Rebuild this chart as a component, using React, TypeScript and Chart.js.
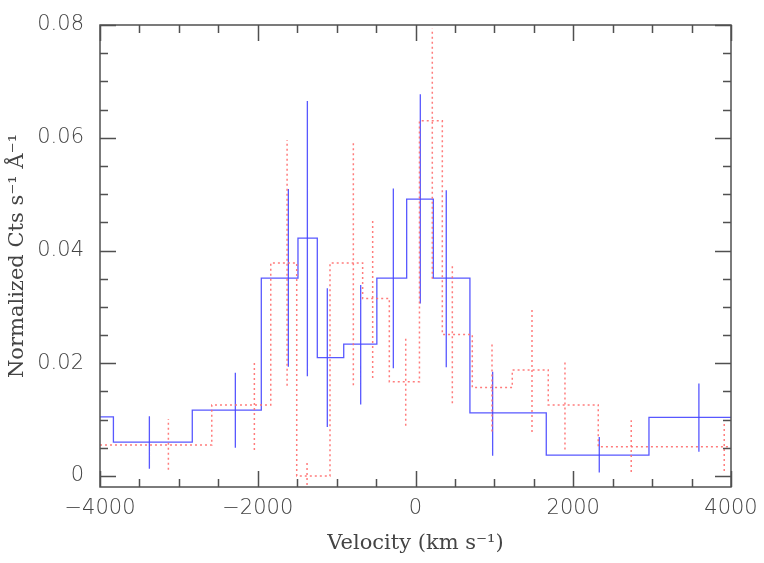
import React, { useEffect, useRef } from 'react';
import { Chart, registerables } from 'chart.js';

Chart.register(...registerables);

// Blue histogram (bin edges in km/s, values in Cts s^-1 Å^-1)
const blueEdges = [-4000, -3830, -2830, -1955, -1490, -1245, -910, -490, -112, 226, 690, 1658, 2960, 4000];
const blueValues = [0.0105, 0.006, 0.0117, 0.0351, 0.0422, 0.021, 0.0234, 0.0351, 0.0491, 0.0351, 0.0112, 0.0037, 0.0104];

// Blue error bars
const blueErrX = [-3374, -2284, -1612, -1371, -1118, -695, -281, 61, 390, 978, 2330, 3593];
const blueErrLo = [0.0013, 0.005, 0.0194, 0.0177, 0.0087, 0.0127, 0.0191, 0.0306, 0.0193, 0.0036, 0.0006, 0.0043];
const blueErrHi = [0.0106, 0.0183, 0.0509, 0.0665, 0.0333, 0.0339, 0.051, 0.0677, 0.0507, 0.0185, 0.0069, 0.0164];

// Red dotted histogram
const redEdges = [-4000, -2583, -1835, -1506, -1084, -670, -332, 50, 340, 720, 1227, 1683, 2317, 4000];
const redValues = [0.0055, 0.0126, 0.0378, 0.0, 0.0378, 0.0315, 0.0167, 0.063, 0.0251, 0.0157, 0.0188, 0.0126, 0.0052];

// Red dotted error bars
const redErrX = [-3133, -2043, -1628, -1375, -788, -543, -124, 213, 467, 970, 1477, 1895, 2735, 3914];
const redErrLo = [0.0011, 0.0046, 0.016, -0.0016, 0.0161, 0.0174, 0.0089, 0.035, 0.0129, 0.0079, 0.0078, 0.0047, 0.0007, 0.0009];
const redErrHi = [0.0101, 0.0205, 0.0596, 0.0023, 0.0595, 0.0456, 0.0245, 0.0794, 0.0373, 0.0234, 0.0297, 0.0203, 0.0099, 0.0099];

// Axis settings
const xMin = -4000;
const xMax = 4000;
const xMinorStep = 500;
const xMajorStep = 2000;
const yMin = -0.00195;
const yMax = 0.08;
const yMinorStep = 0.005;
const yMajorStep = 0.02;

const xTitle = 'Velocity (km s\u207B\u00B9)';
const yTitle = 'Normalized Cts s\u207B\u00B9 \u00C5\u207B\u00B9';

function histPoints(edges: number[], values: number[]) {
  const pts: { x: number; y: number }[] = values.map((v, i) => ({ x: edges[i], y: v }));
  pts.push({ x: edges[edges.length - 1], y: values[values.length - 1] });
  return pts;
}

function errPoints(xs: number[], lo: number[], hi: number[]) {
  const pts: { x: number; y: number | null }[] = [];
  xs.forEach((x, i) => {
    pts.push({ x, y: lo[i] }, { x, y: hi[i] }, { x, y: null });
  });
  return pts;
}

const isMultiple = (v: number, step: number) => Math.abs(v / step - Math.round(v / step)) < 1e-6;

function tickValues(from: number, to: number, step: number) {
  const out: { value: number }[] = [];
  const n = Math.round((to - from) / step);
  for (let i = 0; i <= n; i++) out.push({ value: Math.round((from + i * step) * 1e6) / 1e6 });
  return out;
}

const framePlugin = {
  id: 'frame',
  afterDatasetsDraw(chart: any) {
    const { ctx, chartArea, scales } = chart;
    const { left, right, top, bottom } = chartArea;
    const xs = scales.x;
    const ys = scales.y;
    ctx.save();
    ctx.strokeStyle = '#505050';
    ctx.lineWidth = 1.5;
    ctx.strokeRect(left, top, right - left, bottom - top);
    ctx.beginPath();
    xs.ticks.forEach((t: any) => {
      const v = t.value;
      const len = isMultiple(v, xMajorStep) ? 16 : 8;
      const px = Math.round(xs.getPixelForValue(v)) + 0.5;
      ctx.moveTo(px, bottom);
      ctx.lineTo(px, bottom - len);
      ctx.moveTo(px, top);
      ctx.lineTo(px, top + len);
    });
    ys.ticks.forEach((t: any) => {
      const v = t.value;
      const len = isMultiple(v, yMajorStep) ? 16 : 8;
      const py = Math.round(ys.getPixelForValue(v)) + 0.5;
      ctx.moveTo(left, py);
      ctx.lineTo(left + len, py);
      ctx.moveTo(right, py);
      ctx.lineTo(right - len, py);
    });
    ctx.stroke();
    ctx.restore();
  },
};

export default function App() {
  const ref = useRef<HTMLCanvasElement | null>(null);

  useEffect(() => {
    document.body.style.margin = '0';
    const canvas = ref.current;
    if (!canvas) return;
    const blue = 'rgba(70,70,255,0.9)';
    const red = 'rgba(255,110,110,0.9)';
    const tickFont = { family: "'DejaVu Sans', sans-serif", size: 21, weight: 300 as any };
    const titleFont = { family: "'DejaVu Serif', serif", size: 21, weight: 'normal' as any };
    const chart = new Chart(canvas, {
      type: 'line',
      data: {
        datasets: [
          {
            label: 'red',
            data: histPoints(redEdges, redValues),
            borderColor: red,
            borderWidth: 1.5,
            borderDash: [2, 3],
            stepped: 'before',
            pointRadius: 0,
            fill: false,
          },
          {
            label: 'redErr',
            data: errPoints(redErrX, redErrLo, redErrHi),
            borderColor: red,
            borderWidth: 1.5,
            borderDash: [2, 3],
            pointRadius: 0,
            spanGaps: false,
            fill: false,
          },
          {
            label: 'blue',
            data: histPoints(blueEdges, blueValues),
            borderColor: blue,
            borderWidth: 1.3,
            stepped: 'before',
            pointRadius: 0,
            fill: false,
          },
          {
            label: 'blueErr',
            data: errPoints(blueErrX, blueErrLo, blueErrHi),
            borderColor: blue,
            borderWidth: 1.3,
            pointRadius: 0,
            spanGaps: false,
            fill: false,
          },
        ] as any,
      },
      options: {
        animation: false,
        responsive: false,
        devicePixelRatio: 1,
        layout: { padding: { top: 25, right: 33, left: 0, bottom: 0 } },
        plugins: {
          legend: { display: false },
          tooltip: { enabled: false },
        },
        elements: { line: { tension: 0 } },
        scales: {
          x: {
            type: 'linear',
            min: xMin,
            max: xMax,
            grid: { display: false, drawTicks: false },
            border: { display: false },
            afterBuildTicks: (s: any) => {
              s.ticks = tickValues(xMin, xMax, xMinorStep);
            },
            ticks: {
              autoSkip: false,
              maxRotation: 0,
              padding: 9,
              color: '#444',
              font: tickFont,
              callback: (v: any) => {
                const n = Number(v);
                if (!isMultiple(n, xMajorStep)) return '';
                return n < 0 ? '\u2212' + Math.abs(n) : String(n);
              },
            },
            title: {
              display: true,
              text: xTitle,
              color: '#444',
              font: titleFont,
              padding: { top: 0, bottom: 7 },
            },
            afterFit: (s: any) => {
              s.height = 76;
              s.paddingLeft = 0;
              s.paddingRight = 0;
            },
          },
          y: {
            type: 'linear',
            min: yMin,
            max: yMax,
            grid: { display: false, drawTicks: false },
            border: { display: false },
            afterBuildTicks: (s: any) => {
              s.ticks = tickValues(0, yMax, yMinorStep);
            },
            ticks: {
              autoSkip: false,
              padding: 16,
              color: '#444',
              font: tickFont,
              callback: (v: any) => {
                const n = Number(v);
                if (!isMultiple(n, yMajorStep)) return '';
                const r = Math.round(n * 100) / 100;
                return r === 0 ? '0' : r.toFixed(2);
              },
            },
            title: {
              display: true,
              text: yTitle,
              color: '#444',
              font: titleFont,
              padding: { top: 5, bottom: 0 },
            },
            afterFit: (s: any) => {
              s.width = 100;
              s.paddingTop = 0;
              s.paddingBottom = 0;
            },
          },
        },
      } as any,
      plugins: [framePlugin],
    });
    return () => chart.destroy();
  }, []);

  return (
    <div style={{ width: 764, height: 563, background: '#fff' }}>
      <canvas ref={ref} width={764} height={563} />
    </div>
  );
}
